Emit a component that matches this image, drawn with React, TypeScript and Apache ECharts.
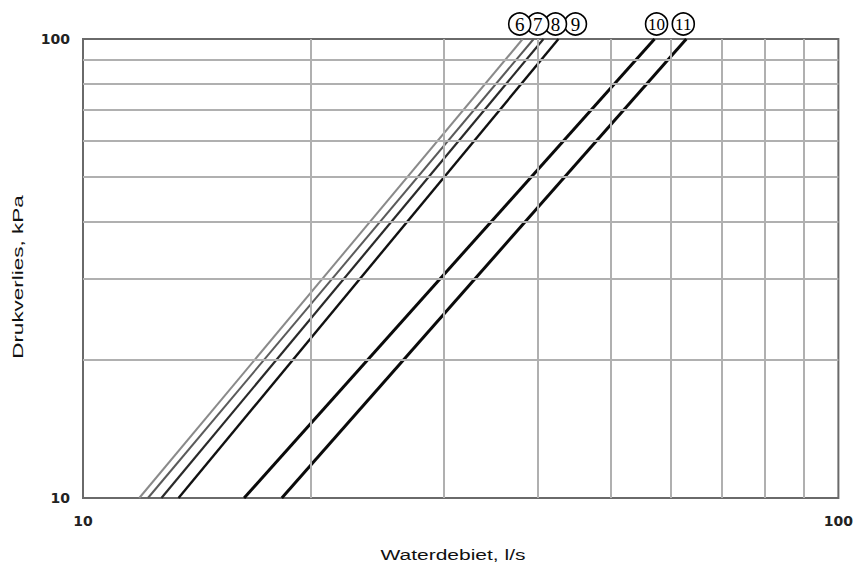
import React, { useEffect, useRef } from "react";
import * as echarts from "echarts";

const curveNames = ["6", "7", "8", "9", "10", "11"];
// water flow (l/s) at 10 kPa and at 100 kPa pressure drop
const flowAt10kPa = [11.87, 12.19, 12.7, 13.38, 16.34, 18.33];
const flowAt100kPa = [38.2, 39.5, 40.7, 42.6, 57.1, 62.9];
const pressureEnds = [10, 100];
const minorFlowGrid = [20, 30, 40, 50, 60, 70, 80, 90];
const minorPressureGrid = [20, 30, 40, 50, 60, 70, 80, 90];
const xTitle = "Waterdebiet, l/s";
const yTitle = "Drukverlies, kPa";

const lineColors = ["#8a8a8a", "#5a5a5a", "#2a2a2a", "#111111", "#0a0a0a", "#0a0a0a"];
const lineWidths = [2, 2, 2.2, 2.4, 3, 3];
const badgeShift = [-3, 4, 12, 17, 2, -3];

export default function App() {
  const ref = useRef<HTMLDivElement>(null);
  useEffect(() => {
    if (!ref.current) return;
    const chart = echarts.init(ref.current, undefined, { renderer: "svg" });
    const gridSeries: any = {
      type: "line",
      data: [],
      z: 1,
      silent: true,
      markLine: {
        silent: true,
        symbol: ["none", "none"],
        label: { show: false },
        lineStyle: { color: "#b0b0b0", width: 2, type: "solid" },
        data: [
          ...minorFlowGrid.map((v) => ({ xAxis: v })),
          ...minorPressureGrid.map((v) => ({ yAxis: v })),
        ],
      },
    };
    const curves = curveNames.map((name, i) => ({
      type: "line",
      name,
      z: 3,
      symbol: "none",
      lineStyle: { color: lineColors[i], width: lineWidths[i] },
      data: [
        [flowAt10kPa[i], pressureEnds[0]],
        [flowAt100kPa[i], pressureEnds[1]],
      ],
      markPoint: {
        z: 20 - i,
        silent: true,
        data: [
          {
            coord: [flowAt100kPa[i], pressureEnds[1]],
            symbol: "circle",
            symbolSize: 22,
            symbolOffset: [badgeShift[i], -15],
            itemStyle: { color: "#ffffff", borderColor: "#000000", borderWidth: 1.6 },
            label: {
              show: true,
              position: "inside",
              formatter: name,
              color: "#000000",
              fontFamily: "Liberation Serif",
              fontSize: name.length > 1 ? 17 : 19,
              letterSpacing: name.length > 1 ? -1.5 : 0,
            },
          },
        ],
      },
    }));
    const labelStyle = {
      fontFamily: "DejaVu Sans",
      fontWeight: "bold",
      fontSize: 14,
      color: "#222",
    };
    chart.setOption({
      animation: false,
      grid: {
        left: 83,
        right: 13,
        top: 39,
        bottom: 69,
        show: true,
        borderColor: "#6a6a6a",
        borderWidth: 2,
        containLabel: false,
      },
      graphic: [
        {
          type: "text",
          x: 453,
          y: 555,
          scaleX: 1.4,
          style: {
            text: xTitle,
            fontFamily: "Liberation Sans",
            fontSize: 15,
            fill: "#111",
            align: "center",
            verticalAlign: "middle",
          },
        },
        {
          type: "text",
          x: 18,
          y: 277,
          rotation: Math.PI / 2,
          scaleX: 1.5,
          style: {
            text: yTitle,
            fontFamily: "Liberation Sans",
            fontSize: 15,
            fill: "#111",
            align: "center",
            verticalAlign: "middle",
          },
        },
      ],
      xAxis: {
        type: "log",
        logBase: 10,
        min: 10,
        max: 100,
        axisLine: { show: false },
        axisTick: { show: false },
        splitLine: { show: false },
        axisLabel: { margin: 16, ...labelStyle },
      },
      yAxis: {
        type: "log",
        logBase: 10,
        min: 10,
        max: 100,
        axisLine: { show: false },
        axisTick: { show: false },
        splitLine: { show: false },
        axisLabel: { margin: 13, ...labelStyle },
      },
      series: [gridSeries, ...curves],
    });
    return () => chart.dispose();
  }, []);
  return <div ref={ref} style={{ width: 856, height: 567, position: "absolute", left: 0, top: 0, background: "#fff" }} />;
}
